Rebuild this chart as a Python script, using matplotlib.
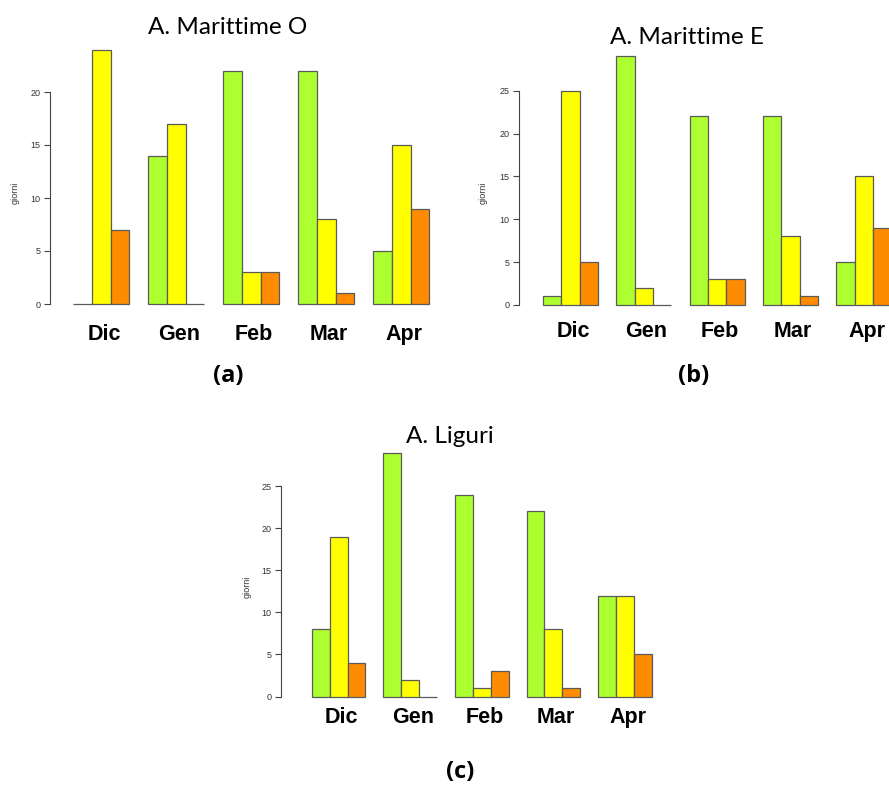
import matplotlib
matplotlib.use("Agg")
import matplotlib.pyplot as plt
import matplotlib.transforms as mtransforms
import numpy as np

months = ["Dic", "Gen", "Feb", "Mar", "Apr"]
colors = ["#ADFF2F", "#FFFF00", "#FF8C00"]

titles = ["A. Marittime O", "A. Marittime E", "A. Liguri"]
tags = ["(a)", "(b)", "(c)"]

green_a = [0, 14, 22, 22, 5]
yellow_a = [24, 17, 3, 8, 15]
orange_a = [7, 0, 3, 1, 9]

green_b = [1, 29, 22, 22, 5]
yellow_b = [25, 2, 3, 8, 15]
orange_b = [5, 0, 3, 1, 9]

green_c = [8, 29, 24, 22, 12]
yellow_c = [19, 2, 1, 8, 12]
orange_c = [4, 0, 3, 1, 5]

yticks_a = [0, 5, 10, 15, 20]
yticks_bc = [0, 5, 10, 15, 20, 25]

W, H = 889, 786
fig = plt.figure(figsize=(W / 100, H / 100), dpi=100)

layouts = [
    dict(left=50, right=440, top=40, x0=54.25, sx=18.75, y0=304, sy=10.6,
         title=(228, 28), tag=(228, 376), monthy=340, ylab=15),
    dict(left=519, right=900, top=40, x0=524.7, sx=18.33, y0=305, sy=8.57,
         title=(687, 38), tag=(694, 376), monthy=337, ylab=483),
    dict(left=281, right=665, top=440, x0=293.8, sx=17.9, y0=696.5, sy=8.41,
         title=(450, 437), tag=(460, 772), monthy=723, ylab=247),
]
data = [
    (green_a, yellow_a, orange_a, yticks_a),
    (green_b, yellow_b, orange_b, yticks_bc),
    (green_c, yellow_c, orange_c, yticks_bc),
]

for lay, (g, y, o, yt), title, tag in zip(layouts, data, titles, tags):
    bottom_px = lay["y0"] + 6
    rect = [lay["left"] / W, 1 - bottom_px / H,
            (lay["right"] - lay["left"]) / W, (bottom_px - lay["top"]) / H]
    ax = fig.add_axes(rect)
    ax.set_xlim((lay["left"] - lay["x0"]) / lay["sx"], (lay["right"] - lay["x0"]) / lay["sx"])
    ax.set_ylim((lay["y0"] - bottom_px) / lay["sy"], (lay["y0"] - lay["top"]) / lay["sy"])
    ax.patch.set_alpha(0)
    series = [g, y, o]
    centers = []
    for i in range(len(months)):
        start = 1 + 4 * i
        centers.append(start + 1.5)
        for j, vals in enumerate(series):
            ax.bar(start + j + 0.5, vals[i], width=1.0, color=colors[j],
                   edgecolor="#5a5a5a", linewidth=0.9)
    for s in ["top", "right", "bottom"]:
        ax.spines[s].set_visible(False)
    ax.spines["left"].set_bounds(yt[0], yt[-1])
    ax.spines["left"].set_color("#444444")
    ax.spines["left"].set_linewidth(0.8)
    ax.set_yticks(yt)
    ax.set_yticklabels([str(v) for v in yt], fontsize=6.5, color="#333333",
                       family="Liberation Sans")
    ax.tick_params(axis="y", length=4, width=0.8, color="#444444", pad=3)
    ax.set_xticks([])
    trans = mtransforms.blended_transform_factory(ax.transData, fig.transFigure)
    for c, m in zip(centers, months):
        ax.text(c + 0.15, 1 - lay["monthy"] / H, m, transform=trans, ha="center", va="baseline",
                fontsize=15.5, fontweight="bold", family="Liberation Sans", clip_on=False)
    fig.text(lay["ylab"] / W, 1 - (lay["y0"] - (yt[-1] * lay["sy"]) / 2 - 5) / H, "giorni",
             rotation=90, ha="center", va="center", fontsize=6.5, color="#333333",
             family="Liberation Sans")
    fig.text(lay["title"][0] / W, 1 - lay["title"][1] / H, title, ha="center", va="center",
             fontsize=17.5, family="Lato")
    fig.text(lay["tag"][0] / W, 1 - lay["tag"][1] / H, tag, ha="center", va="center",
             fontsize=17, fontweight="bold", family="Open Sans")

fig.savefig("out.png", dpi=100)
